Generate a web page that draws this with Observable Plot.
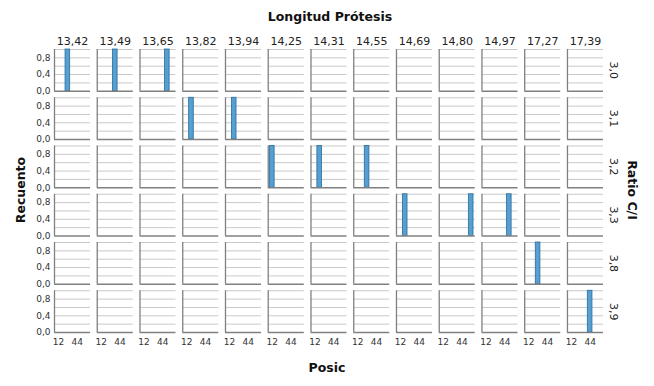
<!DOCTYPE html>
<html>
<head>
<meta charset="utf-8">
<script src="https://cdn.jsdelivr.net/npm/d3@7"></script>
<script src="https://cdn.jsdelivr.net/npm/@observablehq/plot@0.6"></script>
<style>
  html, body { margin: 0; padding: 0; background: #fff; }
  #chart { width: 654px; height: 386px; }
</style>
</head>
<body>
<div id="chart"></div>
<script>
// Facet categories
const longitud = ["13,42","13,49","13,65","13,82","13,94","14,25","14,31","14,55","14,69","14,80","14,97","17,27","17,39"];
const ratio = ["3,0","3,1","3,2","3,3","3,8","3,9"];

// Bars (one per column)
const barLongitud = ["13,42","13,49","13,65","13,82","13,94","14,25","14,31","14,55","14,69","14,80","14,97","17,27","17,39"];
const barRatio    = ["3,0","3,0","3,0","3,1","3,1","3,2","3,2","3,2","3,3","3,3","3,3","3,8","3,9"];
const barPosic    = [28, 36, 52, 20, 20, 12, 20, 28, 20, 60, 52, 28, 44];
const barCount    = [1, 1, 1, 1, 1, 1, 1, 1, 1, 1, 1, 1, 1];

// Tick values
const xTicks = [12, 44];
const yTicks = [0, 0.4, 0.8];
const gridValues = [0.2, 0.4, 0.6, 0.8, 1.0];
const xDomain = [5, 67];
const barHalfWidth = 4;

const bars = barPosic.map((p, i) => ({fx: barLongitud[i], fy: barRatio[i], posic: p, count: barCount[i]}));
const cells = longitud.flatMap(l => ratio.map(r => ({fx: l, fy: r})));
const grid = cells.flatMap(c => gridValues.map(v => ({...c, y: v})));

const comma = d => d.toFixed(1).replace(".", ",");

const svg = Plot.plot({
  width: 654,
  height: 386,
  marginTop: 49,
  marginBottom: 54,
  marginLeft: 54,
  marginRight: 51,
  style: {fontFamily: "DejaVu Sans, sans-serif", fontSize: "9px", color: "#222", background: "#fff"},
  fx: {domain: longitud, paddingInner: 0.157, paddingOuter: 0, round: false},
  fy: {domain: ratio, paddingInner: 0.135, paddingOuter: 0, round: false},
  x: {domain: xDomain},
  y: {domain: [0, 1]},
  marks: [
    Plot.ruleY(grid, {fx: "fx", fy: "fy", y: "y", stroke: "#c9c9c9", strokeWidth: 1}),
    Plot.rectY(bars, {fx: "fx", fy: "fy", x1: d => d.posic - barHalfWidth, x2: d => d.posic + barHalfWidth, y1: 0, y2: "count", fill: "#559fd2", stroke: "#2b6c9b", strokeWidth: 0.8}),
    Plot.ruleY(cells, {fx: "fx", fy: "fy", y: 0, stroke: "#808080", strokeWidth: 1.3}),
    Plot.ruleX(cells, {fx: "fx", fy: "fy", x: xDomain[0], stroke: "#808080", strokeWidth: 1.3}),
    Plot.axisY({ticks: yTicks, tickFormat: comma, tickSize: 0, tickPadding: 4, label: null, fontSize: 9, fill: "#333"}),
    Plot.axisX({ticks: xTicks, tickFormat: d => String(d), tickSize: 0, tickPadding: 6, label: null, fontSize: 9, fill: "#333"}),
    Plot.axisFx({anchor: "top", tickSize: 0, tickPadding: 5, label: null, fontSize: 11, fill: "#222"}),
    Plot.axisFy({anchor: "right", tickSize: 0, tickPadding: 14, tickRotate: 90, label: null, fontSize: 11, fill: "#222"})
  ]
});

const s = d3.select(svg);
s.append("text").attr("x", 330).attr("y", 21).attr("text-anchor", "middle")
  .attr("font-size", 12.5).attr("font-weight", "bold").attr("fill", "#111").text("Longitud Prótesis");
s.append("text").attr("x", 327).attr("y", 372).attr("text-anchor", "middle")
  .attr("font-size", 12.5).attr("font-weight", "bold").attr("fill", "#111").text("Posic");
s.append("text").attr("transform", "translate(25,190) rotate(-90)").attr("text-anchor", "middle")
  .attr("font-size", 12.5).attr("font-weight", "bold").attr("fill", "#111").text("Recuento");
s.append("text").attr("transform", "translate(628,190) rotate(90)").attr("text-anchor", "middle")
  .attr("font-size", 12.5).attr("font-weight", "bold").attr("fill", "#111").text("Ratio C/I");

document.getElementById("chart").appendChild(svg);
</script>
</body>
</html>
